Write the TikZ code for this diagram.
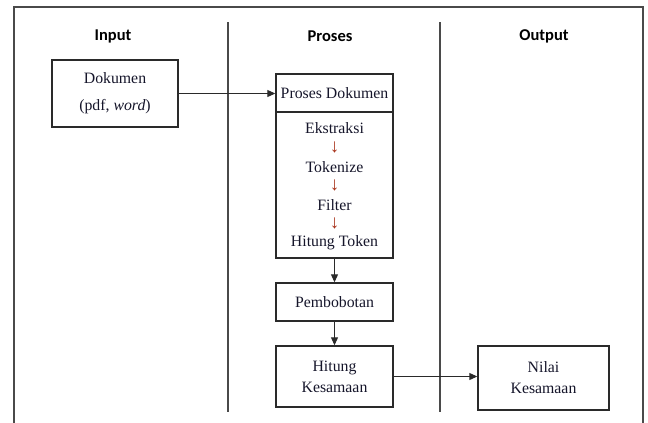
\documentclass[tikz,border=0pt]{standalone}
\usepackage{fontspec}
\setmainfont{Liberation Serif}
\newfontfamily\hdfont{Carlito}
\usetikzlibrary{arrows.meta}
\definecolor{ln}{HTML}{2A2A2A}
\definecolor{fr}{HTML}{4A4A4A}
\definecolor{redarr}{HTML}{A8321A}
\definecolor{txt}{HTML}{15152A}
\begin{document}
\begin{tikzpicture}[x=1pt,y=-1pt,
 box/.style={draw=ln, line width=1.4pt, inner sep=0pt, align=center, text=txt, font=\fontsize{15.8}{21}\selectfont},
 hdr/.style={inner sep=0pt, text=black, font=\hdfont\bfseries\fontsize{16.5}{20}\selectfont},
 conn/.style={-{Triangle[length=8pt,width=7pt]}, line width=1pt, draw=ln},
 lbl/.style={inner sep=0pt, text=txt, font=\fontsize{15.8}{18}\selectfont},
 rarr/.style={inner sep=0pt, text=redarr, font=\bfseries\fontsize{19}{20}\selectfont}
]
\useasboundingbox (0,0) rectangle (648,423);
\draw[fr, line width=1.8pt] (14,423) -- (14,7) -- (643,7) -- (643,423);
\draw[fr, line width=1.8pt] (228,22) -- (228,412);
\draw[fr, line width=1.8pt] (440,22) -- (440,412);

\node[hdr] (hin) at (113,36) {Input};
\node[hdr] (hpr) at (330,36) {Proses};
\node[hdr] (hout) at (544,36) {Output};

\node[box, minimum width=126pt, minimum height=67pt, font=\fontsize{15.8}{27}\selectfont] (dok) at (115,93.5) {Dokumen\\(pdf, \textit{word})};

\node[box, minimum width=117pt, minimum height=38pt] (pd) at (334.5,93) {Proses Dokumen};
\node[box, minimum width=117pt, minimum height=146pt] (steps) at (334.5,185) {};
\node[lbl] (s1) at (334.5,128) {Ekstraksi};
\node[rarr] (a1) at (334.5,147) {↓};
\node[lbl] (s2) at (334.5,167) {Tokenize};
\node[rarr] (a2) at (334.5,185) {↓};
\node[lbl] (s3) at (334.5,205) {Filter};
\node[rarr] (a3) at (334.5,223) {↓};
\node[lbl] (s4) at (334.5,243) {Hitung Token};

\node[box, minimum width=117pt, minimum height=38pt] (bob) at (334.5,302) {Pembobotan};
\node[box, minimum width=117pt, minimum height=61pt] (hk) at (334.5,376.5) {Hitung\\Kesamaan};
\node[box, minimum width=131pt, minimum height=64pt] (nk) at (543.5,378) {Nilai\\Kesamaan};

\draw[conn] (dok.east) -- (dok.east -| pd.west);
\draw[conn] (steps.south) -- (bob.north);
\draw[conn] (bob.south) -- (hk.north);
\draw[conn] (hk.east) -- (hk.east -| nk.west);
\end{tikzpicture}
\end{document}
